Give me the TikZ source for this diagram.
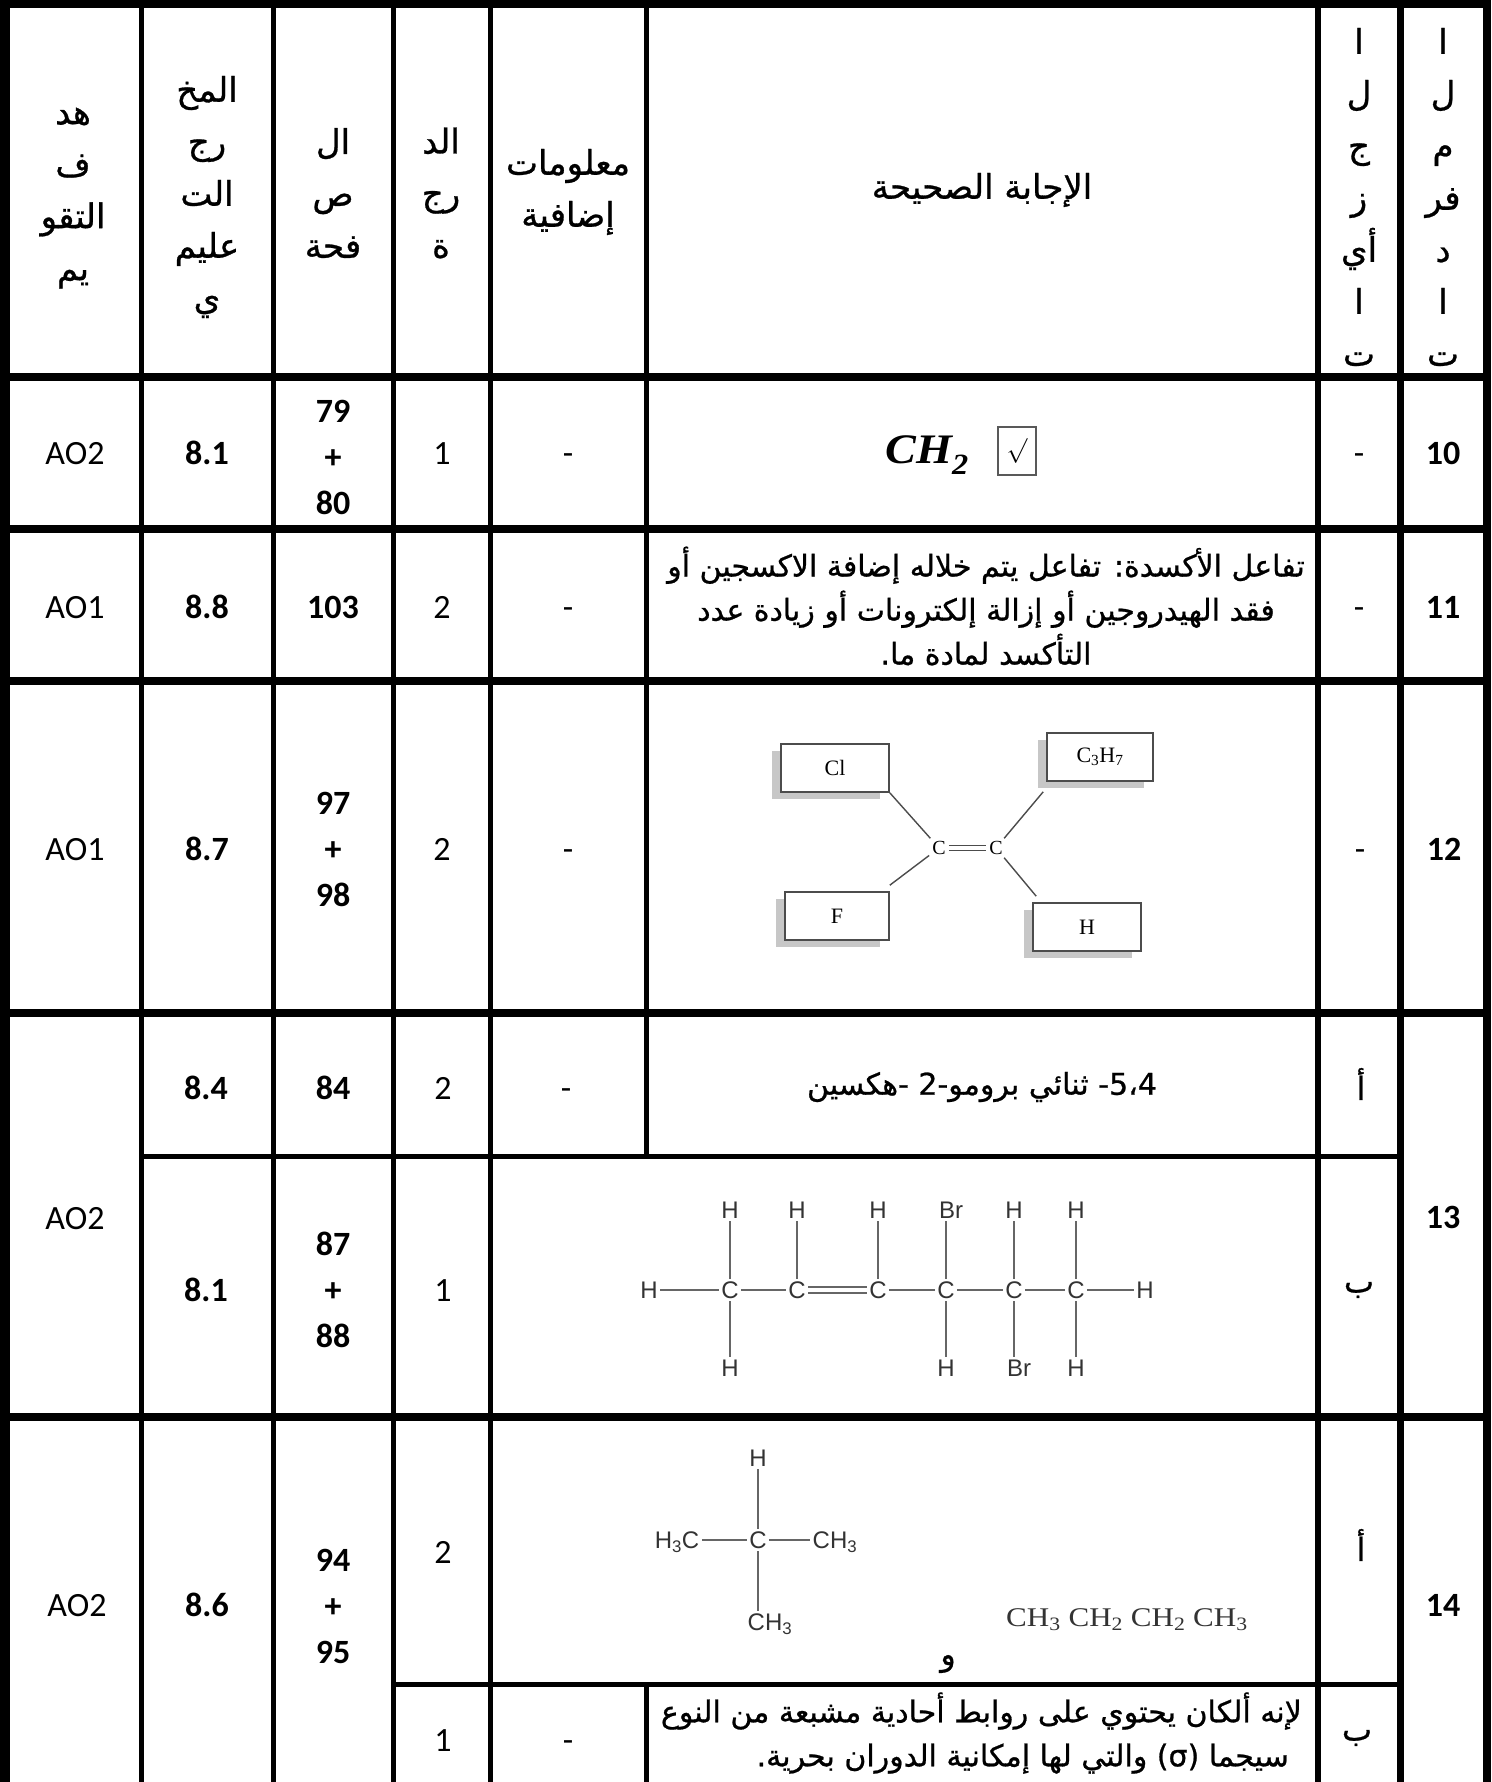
\documentclass[tikz,border=0pt]{standalone}
\usepackage{fontspec}
\setmainfont{Carlito}
\newfontfamily\arfont[Script=Arabic,FakeBold=0.8]{DejaVu Sans}
\newfontfamily\chemserif{Liberation Serif}
\newfontfamily\chemsans{Liberation Sans}
\usetikzlibrary{shadows}
\TeXXeTstate=1
\newcommand{\myR}[1]{\beginR#1\endR}
\newcommand{\myL}[1]{\beginL#1\endL}
\begin{document}
\begin{tikzpicture}[x=1pt,y=-1pt,
  lat/.style={font=\fontsize{34}{46}\selectfont, inner sep=0pt, text height=22pt, text depth=0pt},
  latb/.style={font=\fontsize{34}{46}\selectfont\bfseries, inner sep=0pt, text height=22pt, text depth=0pt},
  latm/.style={font=\fontsize{34}{46}\selectfont\bfseries, inner sep=0pt, align=center},
  arh/.style={font=\fontsize{34}{52}\selectfont\arfont, inner sep=0pt, align=center},
  ar/.style={font=\fontsize{30}{44}\selectfont\arfont, inner sep=0pt, align=center},
  arl/.style={font=\fontsize{32}{44}\selectfont\arfont, inner sep=0pt},
  rule/.style={line width=5pt},
  heavy/.style={line width=8pt},
  chembox/.style={draw=black!70, line width=1.6pt, fill=white, inner sep=0pt,
    font=\fontsize{22}{22}\selectfont\chemserif,
    drop shadow={shadow xshift=-9pt, shadow yshift=-7pt, fill=black!22, opacity=1}},
  catom/.style={font=\fontsize{20}{20}\selectfont\chemserif, inner sep=3pt, text height=13pt, text depth=0pt},
  atom/.style={font=\fontsize{24}{24}\selectfont\chemsans, text=black!80, inner sep=2.5pt, text height=17.2pt, text depth=0pt},
  bond/.style={line width=1.4pt, draw=black!70},
  sbond/.style={line width=1.3pt, draw=black!60},
]
\useasboundingbox (0,0) rectangle (1491,1782);
\clip (0,0) rectangle (1491,1782);
\fill[white] (0,0) rectangle (1491,1782);

% ---------- grid ----------
\draw[rule] (141,0) -- (141,1800);
\draw[rule] (273,0) -- (273,1800);
\draw[rule] (393,0) -- (393,1800);
\draw[rule] (490,0) -- (490,1800);
\draw[rule] (646,0) -- (646,1156);
\draw[rule] (646,1684) -- (646,1800);
\draw[line width=6pt] (1318,0) -- (1318,1800);
\draw[line width=7pt] (1400,0) -- (1400,1800);
\draw[line width=10pt] (5,0) -- (5,1800);
\draw[heavy] (1487,0) -- (1487,1800);
\draw[heavy] (0,4) -- (1491,4);
\draw[heavy] (0,376.5) -- (1491,376.5);
\draw[heavy] (0,529) -- (1491,529);
\draw[heavy] (0,681) -- (1491,681);
\draw[heavy] (0,1013) -- (1491,1013);
\draw[heavy] (0,1416.5) -- (1491,1416.5);
\draw[rule] (141,1156) -- (1400,1156);
\draw[rule] (393,1684.5) -- (1400,1684.5);

% ---------- header ----------
\node[arh] (h1) at (73,198) {\myR{هد}\\\myR{ف}\\\myR{التقو}\\\myR{يم}};
\node[arh] (h2) at (207,197) {\myR{المخ}\\\myR{رج}\\\myR{الت}\\\myR{عليم}\\\myR{ي}};
\node[arh] (h3) at (333,193) {\myR{ال}\\\myR{ص}\\\myR{فحة}};
\node[arh] (h4) at (441,193) {\myR{الد}\\\myR{رج}\\\myR{ة}};
\node[arh] (h5) at (568,192) {\myR{معلومات}\\\myR{إضافية}};
\node[arh] (h6) at (982,190) {\myR{الإجابة الصحيحة}};
\node[arh] (h7) at (1359,197) {\myR{ا}\\\myR{ل}\\\myR{ج}\\\myR{ز}\\\myR{أي}\\\myR{ا}\\\myR{ت}};
\node[arh] (h8) at (1443,197) {\myR{ا}\\\myR{ل}\\\myR{م}\\\myR{فر}\\\myR{د}\\\myR{ا}\\\myR{ت}};

% ---------- row 10 ----------
\node[lat]  (a10) at (75,453) {AO2};
\node[latb] (b10) at (207,453) {8.1};
\node[latm] (c10) at (333,457) {79\\+\\80};
\node[lat]  (d10) at (442,453) {1};
\node[lat]  (e10) at (568,453) {-};
\node[inner sep=0pt, font=\fontsize{42}{42}\selectfont\chemserif\bfseries\itshape] (f10) at (927,455)
  {\scalebox{1.1}[1]{CH\textsubscript{2}}};
\node[draw=black!65, line width=1.5pt, minimum width=38pt, minimum height=48pt, inner sep=0pt,
      font=\fontsize{36}{36}\selectfont] (chk) at (1017,451) {$\surd$};
\node[lat]  (g10) at (1359,453) {-};
\node[latb] (n10) at (1443,453) {10};

% ---------- row 11 ----------
\node[lat]  (a11) at (75,607) {AO1};
\node[latb] (b11) at (207,607) {8.8};
\node[latb] (c11) at (333,607) {103};
\node[lat]  (d11) at (442,607) {2};
\node[lat]  (e11) at (568,607) {-};
\node[ar]   (f11) at (986,606) {\myR{تفاعل الأكسدة\kern0pt: تفاعل يتم خلاله إضافة الاكسجين أو}\\
  \myR{فقد الهيدروجين أو إزالة إلكترونات أو زيادة عدد}\\
  \myR{التأكسد لمادة ما\kern0pt.}};
\node[lat]  (g11) at (1359,607) {-};
\node[latb] (n11) at (1443,607) {11};

% ---------- row 12 ----------
\node[lat]  (a12) at (75,849) {AO1};
\node[latb] (b12) at (207,849) {8.7};
\node[latm] (c12) at (333,849) {97\\+\\98};
\node[lat]  (d12) at (442,849) {2};
\node[lat]  (e12) at (568,849) {-};
\node[lat]  (g12) at (1360,849) {-};
\node[latb] (n12) at (1444,849) {12};

\node[chembox, minimum width=108pt, minimum height=48pt] (cl) at (835,768) {Cl};
\node[chembox, minimum width=106pt, minimum height=48pt] (pr) at (1100,757) {C\textsubscript{3}H\textsubscript{7}};
\node[chembox, minimum width=104pt, minimum height=48pt] (fl) at (837,916) {F};
\node[chembox, minimum width=108pt, minimum height=48pt] (hy) at (1087,927) {H};
\node[catom] (ca) at (939,848) {C};
\node[catom] (cb) at (996,848) {C};
\draw[bond] (cl.south east) -- (ca);
\draw[bond] ([xshift=-3pt,yshift=-10pt]pr.south west) -- (cb);
\draw[bond] ([yshift=6pt]fl.north east) -- (ca);
\draw[bond] ([xshift=4pt,yshift=6pt]hy.north west) -- (cb);
\draw[bond] ([yshift=2.5pt]ca.east) -- ([yshift=2.5pt]cb.west);
\draw[bond] ([yshift=-2.5pt]ca.east) -- ([yshift=-2.5pt]cb.west);

% ---------- row 13 ----------
\node[lat]  (a13) at (75,1218) {AO2};
\node[latb] (b13a) at (206,1088) {8.4};
\node[latb] (c13a) at (333,1088) {84};
\node[lat]  (d13a) at (443,1088) {2};
\node[lat]  (e13a) at (566,1088) {-};
\node[ar]   (f13a) at (982,1087) {\myR{\myL{5،4}- ثنائي برومو\kern0pt-\myL{2} -\kern0pt هكسين}};
\node[arl]  (g13a) at (1361,1084) {\myR{أ}};
\node[latb] (b13b) at (206,1290) {8.1};
\node[latm] (c13b) at (333,1290) {87\\+\\88};
\node[lat]  (d13b) at (443,1290) {1};
\node[arl]  (g13b) at (1359,1290) {\myR{ب}};
\node[latb] (n13) at (1443,1217) {13};

% hexene structure
\node[atom] (hl) at (649,1290) {H};
\node[atom] (k1) at (730,1290) {C};
\node[atom] (k2) at (797,1290) {C};
\node[atom] (k3) at (878,1290) {C};
\node[atom] (k4) at (946,1290) {C};
\node[atom] (k5) at (1014,1290) {C};
\node[atom] (k6) at (1076,1290) {C};
\node[atom] (hr) at (1145,1290) {H};
\node[atom] (u1) at (730,1210) {H};
\node[atom] (u2) at (797,1210) {H};
\node[atom] (u3) at (878,1210) {H};
\node[atom] (u4) at (951,1210) {Br};
\node[atom] (u5) at (1014,1210) {H};
\node[atom] (u6) at (1076,1210) {H};
\node[atom] (l1) at (730,1368) {H};
\node[atom] (l4) at (946,1368) {H};
\node[atom] (l5) at (1019,1368) {Br};
\node[atom] (l6) at (1076,1368) {H};
\draw[sbond] (hl) -- (k1);
\draw[sbond] (k1) -- (k2);
\draw[sbond] ([yshift=3pt]k2.east) -- ([yshift=3pt]k3.west);
\draw[sbond] ([yshift=-3pt]k2.east) -- ([yshift=-3pt]k3.west);
\draw[sbond] (k3) -- (k4);
\draw[sbond] (k4) -- (k5);
\draw[sbond] (k5) -- (k6);
\draw[sbond] (k6) -- (hr);
\draw[sbond] (u1) -- (k1);
\draw[sbond] (u2) -- (k2);
\draw[sbond] (u3) -- (k3);
\draw[sbond] (u4.south -| k4) -- (k4);
\draw[sbond] (u5) -- (k5);
\draw[sbond] (u6) -- (k6);
\draw[sbond] (k1) -- (l1);
\draw[sbond] (k4) -- (l4);
\draw[sbond] (k5) -- (l5.north -| k5);
\draw[sbond] (k6) -- (l6);

% ---------- row 14 ----------
\node[lat]  (a14) at (77,1605) {AO2};
\node[latb] (b14) at (207,1605) {8.6};
\node[latm] (c14) at (333,1606) {94\\+\\95};
\node[lat]  (d14a) at (443,1552) {2};
\node[arl]  (g14a) at (1361,1545) {\myR{أ}};
\node[lat]  (d14b) at (443,1740) {1};
\node[lat]  (e14b) at (568,1740) {-};
\node[ar, align=right, anchor=east] (f14b) at (1302,1733) {\myR{لإنه ألكان يحتوي على روابط أحادية مشبعة من النوع}\\
  \myR{سيجما \myL{(σ)} والتي لها إمكانية الدوران بحرية\kern0pt.}\kern13pt};
\node[arl]  (g14b) at (1357,1738) {\myR{ب}};
\node[latb] (n14) at (1443,1605) {14};

% isobutane structure
\node[atom] (q) at (758,1540) {C};
\node[atom] (qh) at (758,1458) {H};
\node[atom, anchor=east] (qa) at (702,1540) {H\textsubscript{3}C};
\node[atom, anchor=west] (qb) at (810,1540) {CH\textsubscript{3}};
\node[atom, anchor=west] (qc) at (745,1622) {CH\textsubscript{3}};
\draw[sbond] (qh) -- (q);
\draw[sbond] (qa) -- (q);
\draw[sbond] (q) -- (qb);
\draw[sbond] (q) -- (q |- qc.north);
\node[inner sep=0pt, text=black!80, font=\fontsize{27}{27}\selectfont\chemserif] (bu) at (1127,1620)
  {\scalebox{1.15}[1]{CH\textsubscript{3} CH\textsubscript{2} CH\textsubscript{2} CH\textsubscript{3}}};
\node[arl] (waw) at (948,1664) {\myR{و}};
\end{tikzpicture}
\end{document}
